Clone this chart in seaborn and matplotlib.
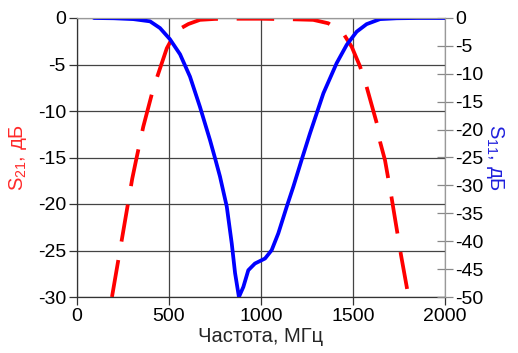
import matplotlib
matplotlib.use("Agg")
import matplotlib.pyplot as plt
import seaborn as sns

# ---- data ----
s21_freq = [190, 243, 300, 321, 360, 415, 447, 488, 527, 565, 605, 668, 750, 850, 1000, 1175,
            1284, 1366, 1447, 1493, 1538, 1574, 1629, 1647, 1674, 1707, 1761, 1802]
s21_db = [-30, -23.9, -17.3, -15.3, -11.7, -7.56, -5.67, -3.26, -1.83, -1.1, -0.65, -0.2, -0.1,
          -0.08, -0.08, -0.14, -0.2, -0.57, -1.65, -3.1, -5.2, -7.4, -11.3, -13.3, -15.3, -19.0,
          -25.5, -30]

s11_freq = [92, 200, 306, 397, 451, 505, 560, 614, 668, 723, 750, 777, 814, 841, 859, 880, 904,
            931, 967, 1022, 1058, 1094, 1140, 1176, 1221, 1266, 1339, 1411, 1466, 1520, 1574,
            1647, 1737, 1850, 2000]
s11_db = [0, -0.05, -0.2, -0.6, -1.8, -3.8, -6.5, -10.5, -15.9, -21.9, -25.1, -28.4, -33.8, -40.4,
          -45.7, -50, -48.2, -45.2, -44.0, -43.1, -41.6, -38.6, -33.8, -30.2, -25.4, -20.7, -13.5,
          -8.1, -4.8, -2.45, -1.1, -0.2, -0.05, 0, 0]

x_ticks = [0, 500, 1000, 1500, 2000]
left_ticks = [0, -5, -10, -15, -20, -25, -30]
right_ticks = list(range(0, -55, -5))

sns.set_style("white")
plt.rcParams['font.family'] = ['Liberation Sans', 'DejaVu Sans']
plt.rcParams['mathtext.fontset'] = 'custom'
plt.rcParams['mathtext.rm'] = 'Liberation Sans'
plt.rcParams['axes.unicode_minus'] = False

fig = plt.figure(figsize=(5.18, 3.53), dpi=100)
ax = fig.add_axes([77/518, 1-297/353, (445-77)/518, (297-18)/353])
ax2 = ax.twinx()

sns.lineplot(x=s21_freq, y=s21_db, ax=ax, color='#ff0000', linewidth=2.7)
ax.lines[-1].set_dashes((10, 5))
ax.lines[-1].set_dash_capstyle('butt')
sns.lineplot(x=s11_freq, y=s11_db, ax=ax2, color='#0000ff', linewidth=2.7)

ax.set_xlim(0, 2000)
ax.set_ylim(-30, 0)
ax2.set_ylim(-50, 0)
ax.set_xticks(x_ticks)
ax.set_xticklabels([str(t) for t in x_ticks])
ax.set_yticks(left_ticks)
ax.set_yticklabels([str(t) for t in left_ticks])
ax2.set_yticks(right_ticks)
ax2.set_yticklabels([str(t) for t in right_ticks])

ax.grid(True, color='#444444', linewidth=0.9)
ax2.grid(False)
ax.set_axisbelow(True)

ax.tick_params(axis='both', labelsize=14, colors='black', length=6, width=0.9,
               direction='out', left=True, bottom=True, pad=2, color='#333333')
ax2.tick_params(axis='y', labelsize=14, length=11, width=0.9, direction='inout',
                right=True, color='#888888', labelcolor='black', pad=2)

for side in ['left', 'bottom']:
    ax.spines[side].set_color('#333333')
    ax.spines[side].set_linewidth(0.9)
for side in ['top', 'right']:
    ax.spines[side].set_color('#999999')
    ax2.spines[side].set_color('#999999')
ax2.spines['left'].set_visible(False)
ax2.spines['bottom'].set_visible(False)

ax.set_xlabel("Частота, МГц", fontsize=14.5, labelpad=1)
ax.set_ylabel(r"S$_\mathregular{21}$, дБ", fontsize=14.5, color='#ff2a2a', labelpad=6)
ax2.set_ylabel(r"S$_\mathregular{11}$, дБ", fontsize=14.5, color='#2020dd', rotation=-90,
               labelpad=16)

fig.savefig("out.png", dpi=100)
